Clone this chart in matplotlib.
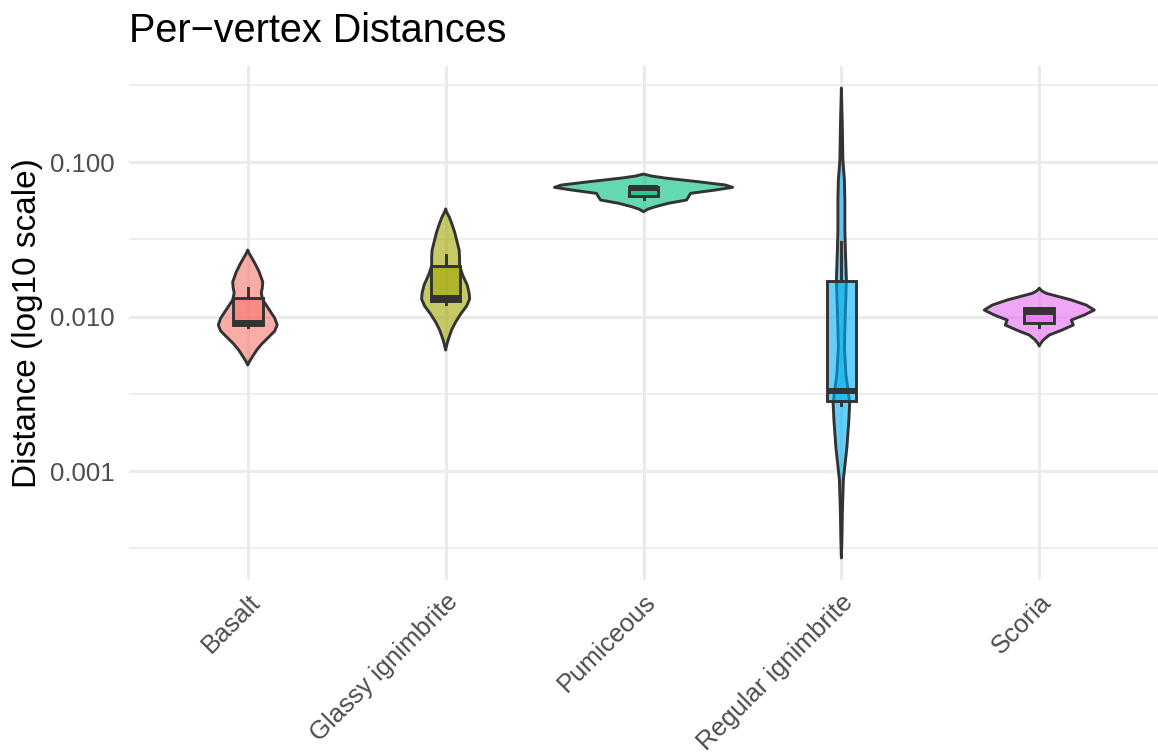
import numpy as np
import matplotlib.pyplot as plt
from matplotlib.patches import Polygon, Rectangle

plt.rcParams['font.family'] = ['Liberation Sans', 'DejaVu Sans']

# Rock types and their fill colours
categories = ["Basalt", "Glassy ignimbrite", "Pumiceous", "Regular ignimbrite", "Scoria"]
colors = ["#F8766D", "#A3A500", "#00BF7D", "#00B0F6", "#E76BF3"]

# Violin outlines: log10(distance) levels and relative density at each level
basalt_log = [-1.570, -1.590, -1.620, -1.654, -1.712, -1.777, -1.816, -1.848, -1.893, -1.958,
              -2.010, -2.055, -2.094, -2.133, -2.178, -2.217, -2.262, -2.290, -2.314]
basalt_dens = [0, .015, .045, .079, .129, .169, .163, .152, .169, .244,
               .303, .331, .303, .236, .157, .101, .051, .02, 0]

glassy_log = [-1.304, -1.325, -1.355, -1.395, -1.453, -1.505, -1.570, -1.621, -1.673, -1.731,
              -1.796, -1.848, -1.887, -1.932, -1.984, -2.036, -2.087, -2.152, -2.190, -2.217]
glassy_dens = [0, .012, .04, .067, .101, .124, .152, .157, .157, .191,
               .242, .264, .270, .236, .169, .112, .067, .028, .01, 0]

pumice_log = [-1.078, -1.091, -1.104, -1.128, -1.149, -1.164, -1.181, -1.203,
              -1.225, -1.246, -1.267, -1.289, -1.305, -1.322]
pumice_dens = [0, .09, .247, .618, .921, 1.0, .809, .528, .506, .483, .281, .135, .05, 0]

regular_log = [-0.521, -0.728, -0.987, -1.117, -1.246, -1.440, -1.570, -1.764, -1.958,
               -2.197, -2.379, -2.476, -2.560, -2.670, -2.845, -3.058, -3.272, -3.447, -3.563]
regular_dens = [0, .009, .017, .034, .039, .039, .045, .056, .045,
                .034, .051, .075, .093, .084, .062, .022, .011, .006, 0]

scoria_log = [-1.817, -1.835, -1.850, -1.893, -1.926, -1.958, -1.990, -2.023, -2.055,
              -2.087, -2.120, -2.152, -2.175, -2.191]
scoria_dens = [0, .03, .079, .360, .528, .618, .506, .360, .382, .258, .112, .045, .015, 0]

# Box summaries in log10(distance): lower whisker, Q1, median, Q3, upper whisker
whisker_lo = [-2.068, -1.919, -1.239, -2.573, -2.068]
q1 = [-2.058, -1.900, -1.220, -2.544, -2.042]
median = [-2.045, -1.880, -1.168, -2.482, -1.968]
q3 = [-1.877, -1.670, -1.159, -1.767, -1.945]
whisker_hi = [-1.816, -1.602, -1.159, -1.518, -1.945]

violin_logs = [basalt_log, glassy_log, pumice_log, regular_log, scoria_log]
violin_dens = [basalt_dens, glassy_dens, pumice_dens, regular_dens, scoria_dens]

edge = "#333333"
grid_col = "#EBEBEB"

fig = plt.figure(figsize=(11.58, 7.54), dpi=100)
ax = fig.add_axes([129 / 1158, 174 / 754, 1029 / 1158, 514 / 754])

for i, (lv, dv, col) in enumerate(zip(violin_logs, violin_dens, colors)):
    xc = i + 1
    y = 10 ** np.array(lv)
    half = 0.45 * np.array(dv)
    xs = np.concatenate([xc + half, (xc - half)[::-1]])
    ys = np.concatenate([y, y[::-1]])
    ax.add_patch(Polygon(np.column_stack([xs, ys]), closed=True, facecolor=col,
                         alpha=0.6, edgecolor="none", zorder=3))
    ax.add_patch(Polygon(np.column_stack([xs, ys]), closed=True, facecolor="none",
                         edgecolor=edge, lw=2.1, joinstyle="round", zorder=4))

    # boxplot on top of the violin
    bw = 0.15
    ax.plot([xc, xc], [10 ** q3[i], 10 ** whisker_hi[i]], color=edge, lw=2.1, zorder=5)
    ax.plot([xc, xc], [10 ** q1[i], 10 ** whisker_lo[i]], color=edge, lw=2.1, zorder=5)
    ax.add_patch(Rectangle((xc - bw / 2, 10 ** q1[i]), bw, 10 ** q3[i] - 10 ** q1[i],
                           facecolor=col, alpha=0.6, edgecolor="none", zorder=5))
    ax.add_patch(Rectangle((xc - bw / 2, 10 ** q1[i]), bw, 10 ** q3[i] - 10 ** q1[i],
                           facecolor="none", edgecolor=edge, lw=2.1, zorder=6))
    ax.plot([xc - bw / 2, xc + bw / 2], [10 ** median[i]] * 2, color=edge, lw=4.3,
            solid_capstyle="butt", zorder=7)

ax.set_yscale("log")
ax.set_xlim(0.4, 5.6)
ax.set_ylim(10 ** -3.7055, 10 ** -0.3786)

ax.set_yticks([0.001, 0.01, 0.1])
ax.set_yticklabels(["0.001", "0.010", "0.100"])
ax.set_yticks([10 ** -3.5, 10 ** -2.5, 10 ** -1.5, 10 ** -0.5], minor=True)
ax.yaxis.set_minor_formatter(plt.NullFormatter())
ax.set_xticks(range(1, 6))
ax.set_xticklabels(categories, rotation=45, ha="right", va="top", rotation_mode="anchor")

ax.tick_params(axis="both", which="both", length=0, labelcolor="#4D4D4D", labelsize=18.5)
ax.tick_params(axis="y", pad=10)
ax.tick_params(axis="x", pad=7)

ax.grid(True, which="major", color=grid_col, lw=2.2, zorder=0)
ax.grid(True, which="minor", axis="y", color=grid_col, lw=1.2, zorder=0)
ax.set_axisbelow(True)
for s in ax.spines.values():
    s.set_visible(False)

fig.text(28 / 1158, 1 - 323 / 754, "Distance (log10 scale)", rotation=90,
         ha="center", va="center", fontsize=24, color="black")
fig.text(129 / 1158, 1 - 42 / 754, "Per\u2212vertex Distances", ha="left",
         va="baseline", fontsize=28.5, color="black")

fig.savefig("out.png", dpi=100, facecolor="white")
